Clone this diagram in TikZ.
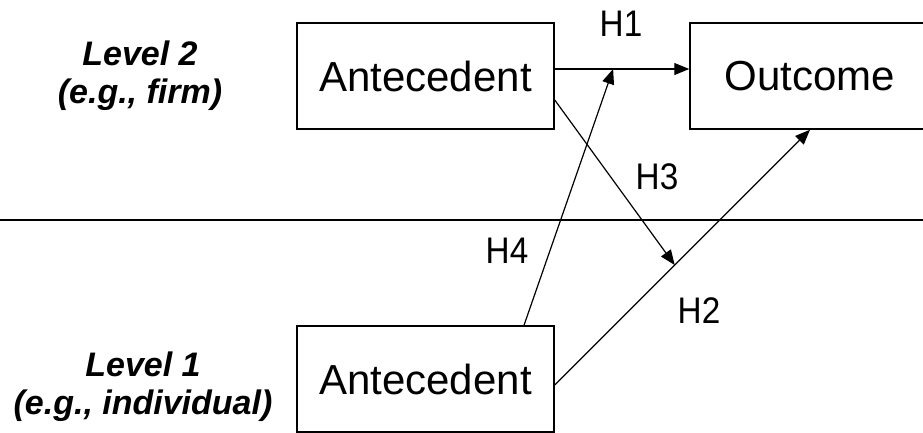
\documentclass[tikz,border=0pt]{standalone}
\usepackage{fontspec}
\setmainfont{Liberation Sans}
\newfontfamily\hfont[FakeStretch=0.9]{Liberation Sans}
\usetikzlibrary{arrows.meta,calc}
\begin{document}
\begin{tikzpicture}[x=1pt,y=-1pt,
  box/.style={draw,line width=1.5pt,minimum height=106pt,inner sep=0pt,font=\fontsize{42}{48}\selectfont},
  conn/.style={line width=1.2pt,-{Triangle[length=15pt,width=12pt]}},
  plain/.style={line width=1.3pt},
  hlab/.style={font=\hfont\fontsize{37}{40}\selectfont,inner sep=0pt},
  lev/.style={font=\fontsize{34}{38}\selectfont\bfseries\itshape,align=center,inner sep=0pt}]
\useasboundingbox (0,0) rectangle (923,432);
\clip (0,0) rectangle (923,432);
\node[box,minimum width=257pt] (a1) at (425.5,76) {Antecedent};
\node[box,minimum width=240pt] (out) at (810,76) {Outcome};
\node[box,minimum width=257pt] (a2) at (425.5,379) {Antecedent};
\coordinate (sepL) at (0,220);
\coordinate (sepR) at (923,220);
\draw[plain] (sepL) -- (sepR);
\coordinate (h1s) at ([yshift=7pt]a1.east);
\coordinate (h1e) at ([yshift=7pt]out.west);
\coordinate (h2s) at ([yshift=-6pt]a2.east);
\coordinate (h4tip) at ($(h1s)!0.434!(h1e)$);
\coordinate (h3tip) at ($(h2s)!0.47!(out.south)$);
\draw[conn] (h1s) -- (h1e);
\draw[conn] (h2s) -- (out.south);
\draw[conn] ([yshift=-24pt]a1.east) -- (h3tip);
\draw[conn] ([xshift=98.5pt]a2.north) -- (h4tip);
\node[hlab] (l1) at (621,24) {H1};
\node[hlab] (l3) at (657,177) {H3};
\node[hlab] (l4) at (507,251) {H4};
\node[hlab] (l2) at (699,311) {H2};
\node[lev] (lv2) at (140,76) {Level 2\\(e.g., firm)};
\node[lev] (lv1) at (143,387) {Level 1\\(e.g., individual)};
\end{tikzpicture}
\end{document}
